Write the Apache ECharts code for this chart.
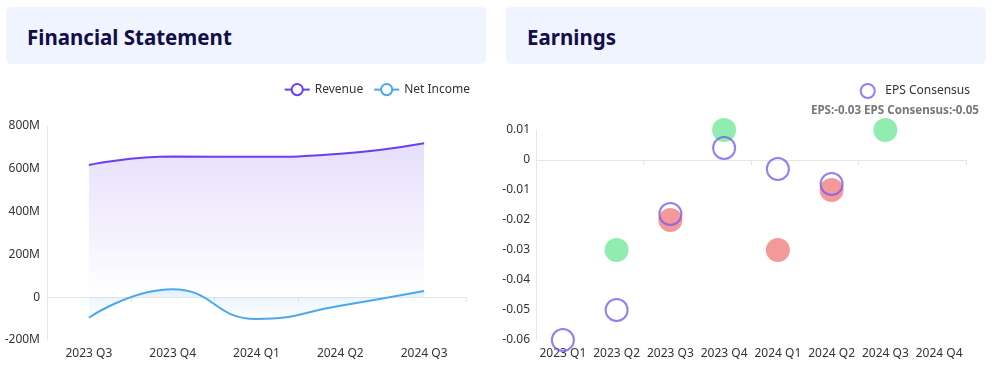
<!DOCTYPE html>
<html>
<head>
<meta charset="utf-8">
<script src="https://cdn.jsdelivr.net/npm/echarts@6/dist/echarts.min.js"></script>
<style>
  html, body { margin: 0; padding: 0; background: #ffffff; }
  body { width: 993px; height: 389px; position: relative; overflow: hidden; font-family: "Noto Sans", sans-serif; }
  .hdr { position: absolute; top: 7px; width: 480px; height: 57px; background: #eff4ff; border-radius: 5px;
         display: flex; align-items: center; box-sizing: border-box; padding-left: 21px; padding-top: 3px;
         font-size: 20.5px; font-weight: bold; color: #120e4a; }
  #chart { position: absolute; left: 0; top: 0; width: 993px; height: 389px; }
</style>
</head>
<body>
<div class="hdr" style="left:6px;">Financial Statement</div>
<div class="hdr" style="left:506px;">Earnings</div>
<div id="chart"></div>
<script>
// ---- Financial Statement data ----
const finCategories = ['2023 Q3', '2023 Q4', '2024 Q1', '2024 Q2', '2024 Q3'];
const revenue = [618e6, 657e6, 656e6, 670e6, 719e6];
const netIncome = [-96e6, 37e6, -102e6, -40e6, 29e6];
const finAxisMin = -200e6, finAxisMax = 800e6, finAxisStep = 200e6;

// ---- Earnings data ----
const epsCategories = ['2023 Q1', '2023 Q2', '2023 Q3', '2023 Q4', '2024 Q1', '2024 Q2', '2024 Q3', '2024 Q4'];
const epsActual = [null, -0.03, -0.02, 0.01, -0.03, -0.01, 0.01, null];
const epsConsensus = [-0.06, -0.05, -0.018, 0.004, -0.003, -0.008, null, null];
const epsAxisMin = -0.06, epsAxisMax = 0.01, epsAxisStep = 0.01;
const epsInfoText = 'EPS:-0.03 EPS Consensus:-0.05';

const FONT = '"Noto Sans", sans-serif';
const REV = '#6a3ff0', NI = '#4aa8ef', PURPLE = '#7b5cf0';
const GREEN = '#76e99b', RED = '#f08080';
const LINE_C = '#e6e6e6';

const epsData = epsActual.map((v, i) => {
  if (v == null) return null;
  const c = epsConsensus[i];
  const beat = (c == null) || v >= c;
  return { value: v, itemStyle: { color: beat ? GREEN : RED } };
});

const chart = echarts.init(document.getElementById('chart'), null, { renderer: 'canvas' });
const lblStyle = { color: '#333', fontSize: 12, fontFamily: FONT };

chart.setOption({
  backgroundColor: 'transparent',
  animation: false,
  textStyle: { fontFamily: FONT },
  legend: [
    { data: ['Revenue', 'Net Income'], right: 518, top: 78, itemWidth: 25, itemHeight: 14, itemGap: 10,
      textStyle: lblStyle },
    { data: ['EPS Consensus'], right: 18, top: 78, itemWidth: 25, itemHeight: 14, textStyle: lblStyle }
  ],
  graphic: [{
    type: 'text', right: 14, top: 105,
    style: { text: epsInfoText, fill: '#777', font: 'bold 11.6px ' + FONT }
  }],
  grid: [
    { left: 47, top: 126, width: 419, height: 214 },
    { left: 536, top: 130, width: 430, height: 210 }
  ],
  xAxis: [
    { type: 'category', gridIndex: 0, data: finCategories, position: 'bottom',
      axisLine: { show: false, onZero: false }, axisTick: { show: false },
      axisLabel: Object.assign({ margin: 8 }, lblStyle), splitLine: { show: false } },
    { type: 'category', gridIndex: 0, data: finCategories, position: 'bottom',
      axisLine: { show: true, onZero: true, lineStyle: { color: LINE_C } },
      axisTick: { show: true, length: 5, lineStyle: { color: LINE_C } },
      axisLabel: { show: false }, splitLine: { show: false } },
    { type: 'category', gridIndex: 1, data: epsCategories, position: 'bottom',
      axisLine: { show: false, onZero: false }, axisTick: { show: false },
      axisLabel: Object.assign({ margin: 8, interval: 0 }, lblStyle), splitLine: { show: false } },
    { type: 'category', gridIndex: 1, data: epsCategories, position: 'bottom',
      axisLine: { show: true, onZero: true, lineStyle: { color: LINE_C } },
      axisTick: { show: true, length: 5, lineStyle: { color: LINE_C } },
      axisLabel: { show: false }, splitLine: { show: false } }
  ],
  yAxis: [
    { type: 'value', gridIndex: 0, min: finAxisMin, max: finAxisMax, interval: finAxisStep,
      axisLine: { show: true, lineStyle: { color: LINE_C } }, axisTick: { show: false },
      splitLine: { show: false },
      axisLabel: Object.assign({ margin: 7, formatter: v => v === 0 ? '0' : (v / 1e6) + 'M' }, lblStyle) },
    { type: 'value', gridIndex: 1, min: epsAxisMin, max: epsAxisMax, interval: epsAxisStep,
      axisLine: { show: true, lineStyle: { color: LINE_C } }, axisTick: { show: false },
      splitLine: { show: false },
      axisLabel: Object.assign({ margin: 6, formatter: v => String(Math.round(v * 100) / 100) }, lblStyle) }
  ],
  series: [
    { name: 'Revenue', type: 'line', xAxisIndex: 0, yAxisIndex: 0, data: revenue, smooth: true,
      symbol: 'emptyCircle', showSymbol: false, color: REV,
      lineStyle: { width: 2, color: REV },
      areaStyle: { color: new echarts.graphic.LinearGradient(0, 0, 0, 1, [
        { offset: 0, color: 'rgba(106,63,240,0.24)' }, { offset: 1, color: 'rgba(106,63,240,0.0)' }]) } },
    { name: 'Net Income', type: 'line', xAxisIndex: 0, yAxisIndex: 0, data: netIncome, smooth: true,
      symbol: 'emptyCircle', showSymbol: false, color: NI,
      lineStyle: { width: 2, color: NI },
      areaStyle: { color: new echarts.graphic.LinearGradient(0, 0, 0, 1, [
        { offset: 0, color: 'rgba(74,168,239,0.22)' }, { offset: 1, color: 'rgba(74,168,239,0.0)' }]) } },
    { name: 'EPS', type: 'scatter', xAxisIndex: 2, yAxisIndex: 1, data: epsData, symbol: 'circle',
      symbolSize: 24 },
    { name: 'EPS Consensus', type: 'scatter', xAxisIndex: 2, yAxisIndex: 1, data: epsConsensus,
      symbol: 'circle', symbolSize: 22, color: PURPLE,
      itemStyle: { color: 'rgba(255,255,255,0)', borderColor: PURPLE, borderWidth: 2 } }
  ]
});
</script>
</body>
</html>
